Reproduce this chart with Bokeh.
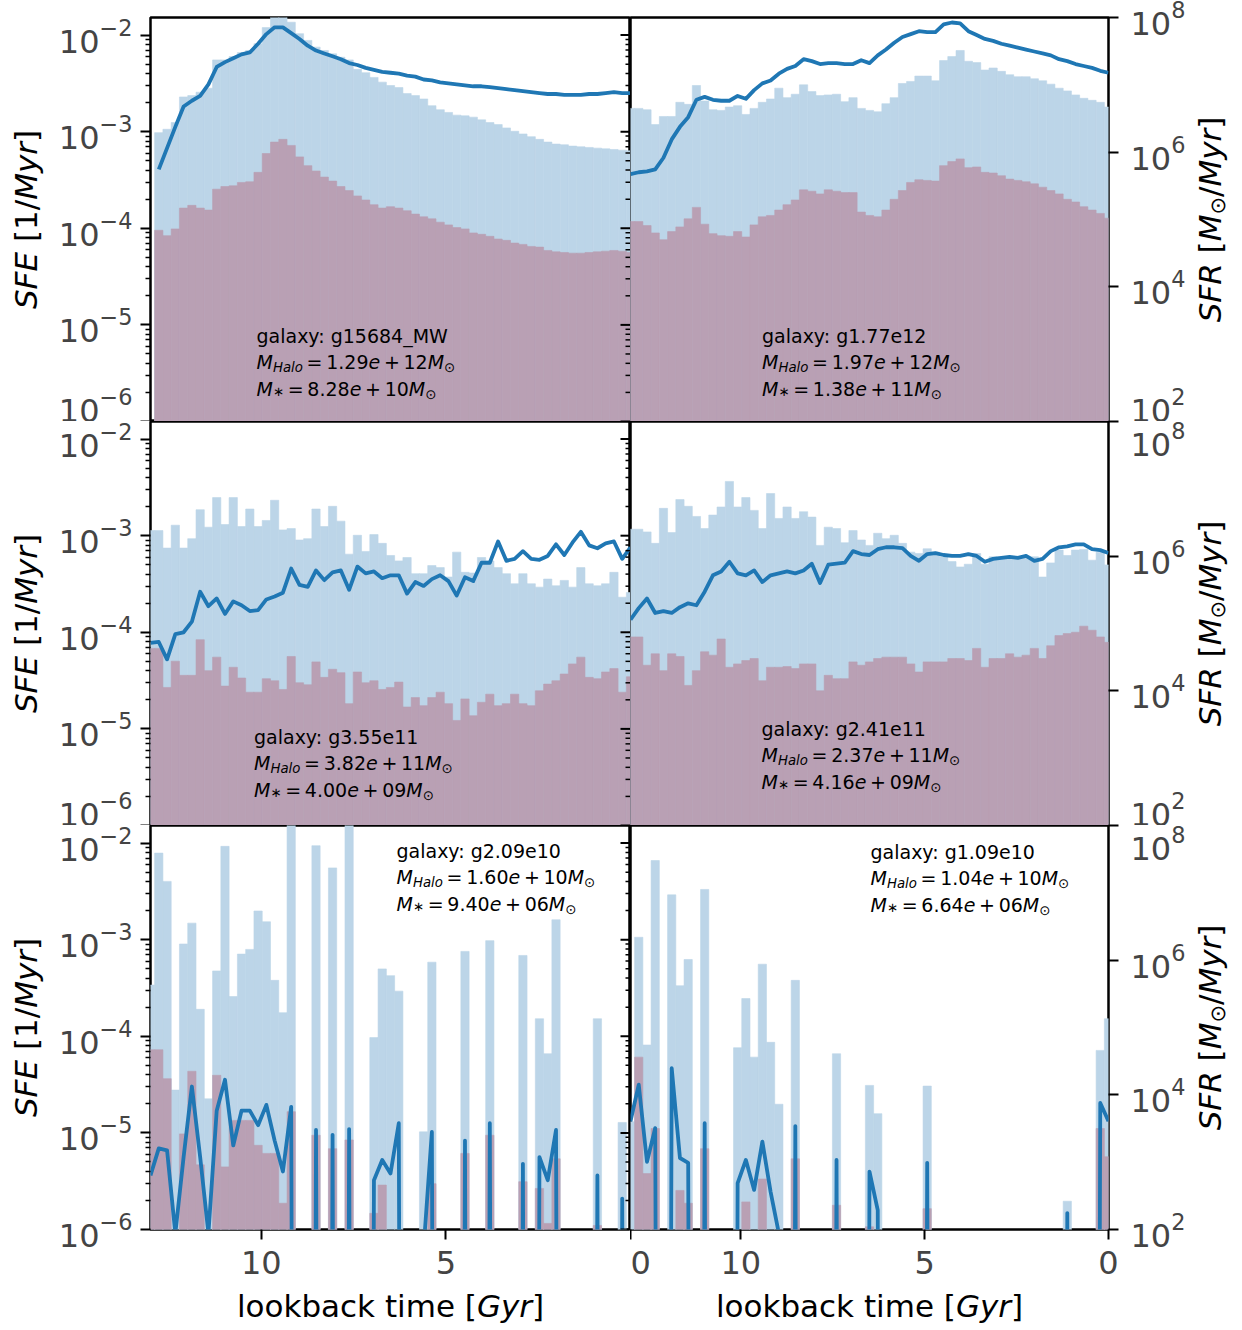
import math
import numpy as np
from bokeh.plotting import figure
from bokeh.models import Range1d, LogScale, LogAxis, FixedTicker, Label, ColumnDataSource
from bokeh.layouts import column, row
from bokeh.embed import file_html
from bokeh.resources import INLINE

N = None  # no star formation in that bin

# ---------------- time grid (bin centres, lookback time in Gyr) ----------------
T_OLDEST = 13.0
N_SNAP = 59
lookback_gyr = np.linspace(T_OLDEST, 0.0, N_SNAP)
BIN_GYR = T_OLDEST / (N_SNAP - 1)

# ---------------- galaxy annotations ----------------
galaxy_names = ["g15684_MW", "g1.77e12", "g3.55e11", "g2.41e11", "g2.09e10", "g1.09e10"]
halo_mass = ["1.29e+12", "1.97e+12", "3.82e+11", "2.37e+11", "1.60e+10", "1.04e+10"]
stellar_mass = ["8.28e+10", "1.38e+11", "4.00e+09", "4.16e+09", "9.40e+06", "6.64e+06"]

# ---------------- data: log10 SFR [Msun/Myr] (light blue / mauve bars), log10 SFE [1/Myr] (line) ----------------
g15684_sfr_all = [N,
    6.29, 6.34, 6.44, 6.82, 6.84, 6.89, 6.95, 7.37, 7.37, 7.42,
    7.48, 7.51, 7.61, 7.85, 8.02, 8.02, 7.93, 7.76, 7.66, 7.56,
    7.51, 7.46, 7.41, 7.37, 7.23, 7.18, 7.11, 7.04, 6.99, 6.96,
    6.87, 6.84, 6.79, 6.69, 6.63, 6.59, 6.55, 6.54, 6.52, 6.48,
    6.44, 6.41, 6.36, 6.31, 6.27, 6.23, 6.19, 6.15, 6.12, 6.11,
    6.09, 6.08, 6.07, 6.06, 6.05, 6.04, 6.03, 6.02]
g15684_sfr_core = [N,
    4.84, 4.76, 4.86, 5.17, 5.21, 5.17, 5.14, 5.45, 5.49, 5.50,
    5.55, 5.56, 5.70, 5.98, 6.15, 6.19, 6.10, 5.93, 5.80, 5.72,
    5.63, 5.57, 5.49, 5.43, 5.35, 5.29, 5.22, 5.17, 5.19, 5.17,
    5.13, 5.08, 5.04, 5.01, 4.96, 4.92, 4.88, 4.86, 4.80, 4.78,
    4.75, 4.71, 4.69, 4.65, 4.63, 4.60, 4.59, 4.54, 4.52, 4.51,
    4.50, 4.50, 4.51, 4.52, 4.53, 4.54, 4.53, 4.51]
g15684_sfe = [N,
    -3.39, -3.17, -2.95, -2.74, -2.68, -2.63, -2.51, -2.33, -2.28, -2.24,
    -2.20, -2.18, -2.09, -1.99, -1.92, -1.92, -1.98, -2.04, -2.11, -2.16,
    -2.19, -2.22, -2.25, -2.29, -2.31, -2.34, -2.36, -2.38, -2.39, -2.40,
    -2.42, -2.43, -2.46, -2.47, -2.49, -2.50, -2.51, -2.52, -2.53, -2.53,
    -2.54, -2.55, -2.56, -2.57, -2.58, -2.59, -2.60, -2.61, -2.61, -2.62,
    -2.62, -2.62, -2.61, -2.61, -2.60, -2.59, -2.60, -2.60]

g177e12_sfr_all = [6.65,
    6.65, 6.63, 6.41, 6.53, 6.53, 6.74, 6.71, 6.99, 6.76, 6.63,
    6.62, 6.67, 6.69, 6.56, 6.65, 6.74, 6.79, 6.95, 6.81, 6.86,
    7.00, 6.90, 6.84, 6.85, 6.86, 6.75, 6.81, 6.65, 6.62, 6.60,
    6.72, 6.81, 7.02, 7.05, 7.13, 7.13, 7.06, 7.36, 7.42, 7.51,
    7.35, 7.33, 7.22, 7.25, 7.20, 7.15, 7.12, 7.12, 7.09, 7.06,
    7.01, 6.95, 6.91, 6.85, 6.80, 6.77, 6.74, 6.67]
g177e12_sfr_core = [4.97,
    4.97, 4.91, 4.80, 4.70, 4.82, 4.89, 5.01, 5.18, 4.93, 4.79,
    4.76, 4.75, 4.82, 4.74, 4.92, 5.04, 5.06, 5.14, 5.22, 5.29,
    5.44, 5.42, 5.38, 5.44, 5.42, 5.40, 5.40, 5.11, 5.06, 5.04,
    5.14, 5.30, 5.43, 5.55, 5.59, 5.58, 5.57, 5.80, 5.86, 5.90,
    5.77, 5.78, 5.70, 5.69, 5.65, 5.60, 5.58, 5.56, 5.53, 5.48,
    5.43, 5.38, 5.30, 5.26, 5.19, 5.14, 5.09, 5.02]
g177e12_sfe = [-3.44,
    -3.42, -3.41, -3.39, -3.27, -3.08, -2.95, -2.85, -2.67, -2.64, -2.67,
    -2.68, -2.68, -2.63, -2.66, -2.57, -2.50, -2.47, -2.40, -2.35, -2.32,
    -2.25, -2.27, -2.30, -2.29, -2.29, -2.30, -2.30, -2.26, -2.29, -2.21,
    -2.15, -2.08, -2.02, -1.99, -1.96, -1.97, -1.97, -1.89, -1.87, -1.88,
    -1.96, -2.00, -2.04, -2.06, -2.09, -2.11, -2.13, -2.15, -2.17, -2.19,
    -2.21, -2.25, -2.27, -2.30, -2.32, -2.34, -2.37, -2.39]

g355e11_sfr_all = [6.38,
    6.38, 6.12, 6.46, 6.12, 6.26, 6.69, 6.43, 6.87, 6.47, 6.87,
    6.44, 6.70, 6.44, 6.53, 6.83, 6.39, 6.41, 6.24, 6.26, 6.70,
    6.44, 6.74, 6.52, 6.03, 6.31, 6.07, 6.32, 6.19, 6.01, 5.93,
    5.98, 5.74, 5.74, 5.86, 5.83, 5.69, 6.06, 5.76, 5.75, 5.98,
    5.93, 5.83, 5.74, 5.59, 5.74, 5.59, 5.54, 5.66, 5.56, 5.64,
    5.54, 5.83, 5.59, 5.56, 5.59, 5.76, 5.39, 5.46]
g355e11_sfr_core = [4.63,
    4.63, 4.05, 4.44, 4.23, 4.23, 4.76, 4.30, 4.50, 4.07, 4.35,
    4.19, 3.98, 3.98, 4.18, 4.15, 4.02, 4.51, 4.12, 4.09, 4.43,
    4.20, 4.32, 4.27, 3.81, 4.28, 4.12, 4.15, 4.02, 4.05, 4.13,
    3.76, 3.90, 3.78, 3.90, 3.98, 3.81, 3.56, 3.88, 3.63, 3.83,
    3.95, 3.78, 3.81, 3.95, 3.81, 3.78, 4.00, 4.10, 4.15, 4.25,
    4.40, 4.50, 4.20, 4.18, 4.28, 4.33, 3.98, 4.21]
g355e11_sfe = [-4.11,
    -4.10, -4.28, -4.02, -4.00, -3.89, -3.58, -3.73, -3.65, -3.81, -3.68,
    -3.72, -3.78, -3.77, -3.66, -3.63, -3.59, -3.34, -3.51, -3.53, -3.36,
    -3.46, -3.38, -3.36, -3.56, -3.32, -3.39, -3.37, -3.44, -3.41, -3.41,
    -3.60, -3.48, -3.52, -3.45, -3.41, -3.47, -3.62, -3.43, -3.47, -3.28,
    -3.28, -3.06, -3.26, -3.24, -3.16, -3.24, -3.25, -3.21, -3.09, -3.20,
    -3.07, -2.96, -3.10, -3.13, -3.08, -3.06, -3.24, -3.12]

g241e11_sfr_all = [6.40,
    6.40, 6.36, 6.19, 6.71, 6.35, 6.84, 6.74, 6.59, 6.41, 6.61,
    6.73, 7.11, 6.73, 6.87, 6.68, 6.41, 6.93, 6.56, 6.73, 6.56,
    6.66, 6.58, 6.16, 6.43, 6.41, 6.20, 6.38, 6.24, 6.16, 6.34,
    6.26, 6.31, 6.19, 6.06, 6.04, 6.11, 6.06, 5.99, 5.92, 5.84,
    5.88, 6.04, 5.88, 5.99, 5.97, 5.99, 5.97, 6.00, 5.99, 5.69,
    5.90, 6.09, 6.01, 6.09, 6.10, 5.94, 6.06, 5.87]
g241e11_sfr_core = [4.80,
    4.80, 4.38, 4.55, 4.30, 4.55, 4.51, 4.08, 4.30, 4.58, 4.53,
    4.77, 4.35, 4.40, 4.45, 4.48, 4.15, 4.35, 4.35, 4.36, 4.33,
    4.40, 4.40, 4.00, 4.23, 4.18, 4.18, 4.43, 4.38, 4.43, 4.48,
    4.50, 4.50, 4.50, 4.40, 4.28, 4.43, 4.43, 4.43, 4.48, 4.48,
    4.45, 4.63, 4.35, 4.48, 4.48, 4.55, 4.50, 4.53, 4.63, 4.48,
    4.67, 4.82, 4.85, 4.87, 4.96, 4.90, 4.80, 4.72]
g241e11_sfe = [-3.87,
    -3.75, -3.65, -3.80, -3.78, -3.80, -3.74, -3.70, -3.72, -3.58, -3.41,
    -3.37, -3.27, -3.39, -3.41, -3.36, -3.48, -3.41, -3.39, -3.37, -3.39,
    -3.36, -3.29, -3.49, -3.30, -3.29, -3.28, -3.16, -3.19, -3.20, -3.14,
    -3.12, -3.12, -3.13, -3.21, -3.26, -3.19, -3.18, -3.20, -3.21, -3.21,
    -3.19, -3.21, -3.27, -3.24, -3.23, -3.22, -3.23, -3.21, -3.26, -3.24,
    -3.16, -3.12, -3.11, -3.09, -3.09, -3.14, -3.15, -3.18]

g209e10_sfr_all = [
    5.63, 7.59, 7.17, 4.07, 6.24, 6.55, 5.27, 3.94, 5.84, 7.69,
    5.46, 6.09, 6.16, 6.73, 6.57, 5.70, 5.22, 8.30, N, N,
    7.70, N, 7.37, N, 8.30, N, N, 4.85, 5.87, 5.77,
    5.54, N, N, 3.45, 5.97, N, N, N, 6.13, N,
    N, 6.29, N, N, N, 6.07, N, 5.13, 4.61, 6.60,
    N, N, N, N, 5.13, N, N, 3.59, N]
g209e10_sfr_core = [
    4.67, 4.67, 4.24, N, 3.42, 4.35, 2.96, N, 4.29, 2.93,
    3.62, 3.62, 3.62, 3.25, 3.13, 3.13, 2.39, 3.75, N, N,
    3.40, N, 3.20, N, 3.33, N, N, 2.24, 2.66, N,
    N, N, N, N, 2.68, N, N, N, 3.13, N,
    N, 3.40, N, N, N, 2.71, N, 2.61, 2.09, 3.05,
    N, N, N, N, 2.06, N, N, N, N]
g209e10_sfe = [
    -5.44, -5.16, -5.18, -6.04, -5.25, -4.52, -5.25, -6.04, -4.77, -4.45,
    -5.13, -4.77, -4.77, -4.92, -4.71, -5.08, -5.40, -4.73, N, N,
    -4.97, N, -5.02, N, -4.96, N, N, -5.49, -5.28, -5.42,
    -4.90, N, N, -6.20, -4.99, N, N, N, -5.08, N,
    N, -4.90, N, N, N, -5.32, N, -5.25, -5.49, -4.97,
    N, N, N, N, -5.44, N, N, -5.68, N]

g109e10_sfr_all = [
    3.60, 6.34, 4.74, 7.48, N, 6.97, 5.62, 6.01, N, 7.05,
    N, N, N, 4.70, 5.43, 4.56, 5.94, 4.78, 3.86, N,
    5.70, N, N, N, N, 4.61, N, N, N, 4.14,
    3.72, N, N, N, N, N, 4.13, N, N, N,
    N, N, N, N, N, N, N, N, N, N,
    N, N, N, 2.42, N, N, N, 4.66, 5.13]
g109e10_sfr_core = [
    N, 4.56, 2.83, 3.50, N, N, 2.58, 2.39, N, 3.20,
    N, N, N, N, 2.41, N, 2.75, N, N, N,
    3.05, N, N, N, N, 2.36, N, N, N, 2.04,
    N, N, N, N, N, N, 2.31, N, N, N,
    N, N, N, N, N, N, N, N, N, N,
    N, N, N, N, N, N, N, 3.50, 3.08]
g109e10_sfe = [
    -4.88, -4.50, -5.30, -4.95, N, -4.33, -5.26, -5.31, N, -4.90,
    N, N, N, -5.52, -5.28, -5.59, -5.09, -5.61, -6.04, N,
    -4.93, N, N, N, N, -5.28, N, N, N, -5.40,
    -5.80, N, N, N, N, N, -5.31, N, N, N,
    N, N, N, N, N, N, N, N, N, N,
    N, N, N, -5.83, N, N, N, -4.69, -4.88]

SFR_ALL = [g15684_sfr_all, g177e12_sfr_all, g355e11_sfr_all, g241e11_sfr_all, g209e10_sfr_all, g109e10_sfr_all]
SFR_CORE = [g15684_sfr_core, g177e12_sfr_core, g355e11_sfr_core, g241e11_sfr_core, g209e10_sfr_core, g109e10_sfr_core]
SFE = [g15684_sfe, g177e12_sfe, g355e11_sfe, g241e11_sfe, g209e10_sfe, g109e10_sfe]
for arr in SFR_ALL + SFR_CORE + SFE:
    assert len(arr) == N_SNAP, len(arr)

# ---------------- styling / layout constants ----------------
LIGHT_BLUE = "#bcd5e8"
MAUVE = "#b9a0b4"
LINE_BLUE = "#1f77b4"
FONT = "DejaVu Sans"
SFE_LO, SFE_HI = 1e-6, 1.52e-2
SFR_LO, SFR_HI = 1e2, 1e8
LOG_LO, LOG_HI = math.log10(SFE_LO), math.log10(SFE_HI)
FRAME_H = 404
FRAME_W = [480, 478]
FLOOR = 1e-30
MID = 0.346  # centre of the em box above the alphabetic baseline (DejaVu Sans)

LEFT_STRIP, RIGHT_STRIP = 54, 52
BORDER_L, BORDER_R = 96, 80
BORDER_T, BORDER_B = 17, 60
GRID_H = BORDER_T + 3 * FRAME_H + BORDER_B          # 1289
TOTAL_W = LEFT_STRIP + BORDER_L + FRAME_W[0] + FRAME_W[1] + BORDER_R + RIGHT_STRIP  # 1240
BOTTOM_H = 39

# galaxy-text anchors (frame pixels from left / from top, first baseline)
TEXT_POS = [(106, 325), (131.5, 325), (103.5, 322), (131, 314), (246, 32), (240, 33)]
LINE_GAP = 26.5
TXT_BIG, TXT_SMALL = 19, 13.3
TICK_FONT = "32px"
LABEL_SIZE = 31

EM = {' ': .318, '.': .318, ':': .337, '_': .5, '+': .838, '=': .838, '/': .337,
      '[': .390, ']': .390, '\u2299': .838, '\u2217': .838}
for d in '0123456789':
    EM[d] = .636
EM.update({'a': .613, 'b': .635, 'c': .550, 'e': .615, 'g': .635, 'i': .278, 'k': .579,
           'l': .278, 'm': .974, 'o': .612, 'r': .411, 't': .392, 'x': .592, 'y': .592,
           'E': .632, 'F': .575, 'G': .775, 'H': .752, 'M': .863, 'R': .695, 'S': .635, 'W': .989})


def tw(s, size):
    return sum(EM.get(c, .6) for c in s) * size


def frame_to_data(px, py, fw):
    t = T_OLDEST - px / fw * T_OLDEST
    lg = LOG_HI - py / FRAME_H * (LOG_HI - LOG_LO)
    return t, 10 ** lg


def put_segments(p, x, y, segs, angle=0.0, center=False):
    """segments share one alphabetic baseline through (x, y); drop>0 lowers a segment"""
    total = 0.0
    for txt, style, size, drop in segs:
        total += tw(txt, size) if style else size
    adv = -total / 2 if center else 0.0
    for txt, style, size, drop in segs:
        if style is None:
            adv += size
            continue
        if angle == 0.0:
            xo, yo = adv, -drop + MID * size
        else:
            xo, yo = drop - MID * size, adv
        p.add_layout(Label(x=x, y=y, x_offset=xo, y_offset=yo, text=txt, angle=angle,
                           text_font=FONT, text_font_style=style, text_font_size=f"{size}px",
                           text_baseline="middle", text_align="left", text_color="black"))
        adv += tw(txt, size)


def gap(size):
    return (None, None, EM[' '] * size, 0)


def mass_line(sub, sub_style, number):
    mant, ex = number.split("e+")
    sp = 0.195 * TXT_BIG
    return [("M", "italic", TXT_BIG, 0), (sub, sub_style, TXT_SMALL, 3.5 if sub_style == "italic" else 1.0),
            (None, None, sp, 0), ("=", "normal", TXT_BIG, 0), (None, None, sp, 0),
            (mant, "normal", TXT_BIG, 0), ("e", "italic", TXT_BIG, 0), (None, None, sp, 0),
            ("+", "normal", TXT_BIG, 0), (None, None, sp, 0), (ex, "normal", TXT_BIG, 0),
            ("M", "italic", TXT_BIG, 0), ("\u2299", "normal", TXT_SMALL, 3.5)]


def bars(p, values, color):
    src = dict(left=[], right=[], top=[], bottom=[])
    for t, v in zip(lookback_gyr, values):
        if v is None:
            continue
        src["left"].append(t + BIN_GYR / 2)
        src["right"].append(t - BIN_GYR / 2)
        src["top"].append(10 ** v)
        src["bottom"].append(1.0)
    p.quad(left="left", right="right", top="top", bottom="bottom", source=ColumnDataSource(src),
           y_range_name="sfr", fill_color=color, line_color=color, line_width=0.6)


def sfe_line(p, values):
    first = next(i for i, v in enumerate(values) if v is not None)
    xs = list(lookback_gyr[first:])
    ys = [10 ** v if v is not None else FLOOR for v in values[first:]]
    p.line(xs, ys, line_width=3.8, line_color=LINE_BLUE, line_join="round")


def strip(w, h):
    s = figure(width=w, height=h, x_range=Range1d(0, w), y_range=Range1d(0, h),
               toolbar_location=None, output_backend="svg", title=None,
               x_axis_location=None, y_axis_location=None, min_border=0)
    s.outline_line_color = None
    s.grid.visible = False
    return s


sfe_major = [10.0 ** k for k in range(-6, -1)]
sfe_minor = [m * 10.0 ** k for k in range(-6, -2) for m in range(2, 10)]

figs = []
for idx in range(6):
    r, c = divmod(idx, 2)
    left = c == 0
    top = r == 0
    bottom = r == 2
    fw = FRAME_W[c]
    bl = BORDER_L if left else 0
    br = 0 if left else BORDER_R
    bt = BORDER_T if top else 0
    bb = BORDER_B if bottom else 0
    p = figure(width=fw + bl + br, height=FRAME_H + bt + bb,
               x_range=Range1d(T_OLDEST, 0.0), y_range=Range1d(SFE_LO, SFE_HI),
               y_axis_type="log",
               x_axis_location="below" if bottom else None,
               y_axis_location="left" if left else None,
               toolbar_location=None, output_backend="svg", title=None,
               min_border_left=bl, min_border_right=br, min_border_top=bt, min_border_bottom=bb)
    p.extra_y_ranges = {"sfr": Range1d(SFR_LO, SFR_HI)}
    p.extra_y_scales = {"sfr": LogScale()}
    p.grid.visible = False
    p.outline_line_color = "black"
    p.outline_line_width = 2.5
    p.background_fill_color = "white"
    p.border_fill_color = "white"

    bars(p, SFR_ALL[idx], LIGHT_BLUE)
    bars(p, SFR_CORE[idx], MAUVE)
    sfe_line(p, SFE[idx])

    if left:
        ax = p.yaxis[0]
        ax.ticker = FixedTicker(ticks=sfe_major, minor_ticks=sfe_minor)
        ax.major_tick_out, ax.major_tick_in = 10, 0
        ax.minor_tick_out, ax.minor_tick_in = 5, 0
        ax.major_tick_line_width = 2
        ax.minor_tick_line_width = 1.5
        ax.axis_line_color = None
        ax.major_label_text_font = FONT
        ax.major_label_text_font_size = TICK_FONT
        ax.major_label_standoff = 8
        # ticks of the neighbouring panel's SFE axis, pointing into this panel
        p.rect(x=0.0, y=sfe_major, width=20, height=2, width_units="screen", height_units="screen",
               fill_color="black", line_color=None)
        p.rect(x=0.0, y=sfe_minor, width=10, height=1.5, width_units="screen", height_units="screen",
               fill_color="black", line_color=None)
    else:
        rax = LogAxis(y_range_name="sfr", ticker=FixedTicker(ticks=[1e2, 1e4, 1e6, 1e8], minor_ticks=[]))
        rax.major_tick_out, rax.major_tick_in = 10, 0
        rax.major_tick_line_width = 2
        rax.axis_line_color = None
        rax.major_label_text_font = FONT
        rax.major_label_text_font_size = TICK_FONT
        rax.major_label_standoff = 12
        p.add_layout(rax, "right")

    if bottom:
        xa = p.xaxis[0]
        if left:
            xa.ticker = FixedTicker(ticks=[10, 5], minor_ticks=[])
        else:
            # the tick at the shared edge carries the left panel's "0"
            xa.ticker = FixedTicker(ticks=[13, 10, 5, 0], minor_ticks=[])
            xa.major_label_overrides = {13: "0"}
        xa.major_tick_out, xa.major_tick_in = 10, 0
        xa.major_tick_line_width = 2
        xa.axis_line_color = None
        xa.major_label_text_font = FONT
        xa.major_label_text_font_size = TICK_FONT
        xa.major_label_standoff = 11

    # galaxy annotation
    px, py = TEXT_POS[idx]
    for k, segs in enumerate([
            [("galaxy: " + galaxy_names[idx], "normal", TXT_BIG, 0)],
            mass_line("Halo", "italic", halo_mass[idx]),
            mass_line("\u2217", "normal", stellar_mass[idx])]):
        ax_, ay_ = frame_to_data(px, py + k * LINE_GAP, fw)
        put_segments(p, ax_, ay_, segs)

    figs.append(p)

# ---------------- label strips (axis titles) ----------------
left_strip = strip(LEFT_STRIP, GRID_H)
right_strip = strip(RIGHT_STRIP, GRID_H)
bottom_strip = strip(TOTAL_W, BOTTOM_H)

sfe_title = [("SFE", "italic", LABEL_SIZE, 0), gap(LABEL_SIZE), ("[1/", "normal", LABEL_SIZE, 0),
             ("Myr", "italic", LABEL_SIZE, 0), ("]", "normal", LABEL_SIZE, 0)]
sfr_title = [("SFR", "italic", LABEL_SIZE, 0), gap(LABEL_SIZE), ("[", "normal", LABEL_SIZE, 0),
             ("M", "italic", LABEL_SIZE, 0), ("\u2299", "normal", 21, 5),
             ("/", "normal", LABEL_SIZE, 0), ("Myr", "italic", LABEL_SIZE, 0),
             ("]", "normal", LABEL_SIZE, 0)]
for r in range(3):
    yc = GRID_H - (BORDER_T + FRAME_H * r + FRAME_H / 2)
    put_segments(left_strip, 36, yc, sfe_title, angle=math.pi / 2, center=True)
    put_segments(right_strip, 32, yc, sfr_title, angle=math.pi / 2, center=True)

frame_left = [LEFT_STRIP + BORDER_L, LEFT_STRIP + BORDER_L + FRAME_W[0]]
for c in range(2):
    put_segments(bottom_strip, frame_left[c] + FRAME_W[c] / 2, 12,
                 [("lookback", "normal", LABEL_SIZE, 0), gap(LABEL_SIZE), ("time", "normal", LABEL_SIZE, 0),
                  gap(LABEL_SIZE), ("[", "normal", LABEL_SIZE, 0), ("Gyr", "italic", LABEL_SIZE, 0),
                  ("]", "normal", LABEL_SIZE, 0)], center=True)

grid = column(row(figs[0], figs[1]), row(figs[2], figs[3]), row(figs[4], figs[5]))
layout = column(row(left_strip, grid, right_strip), bottom_strip)
open("out.html", "w").write(file_html(layout, INLINE))
